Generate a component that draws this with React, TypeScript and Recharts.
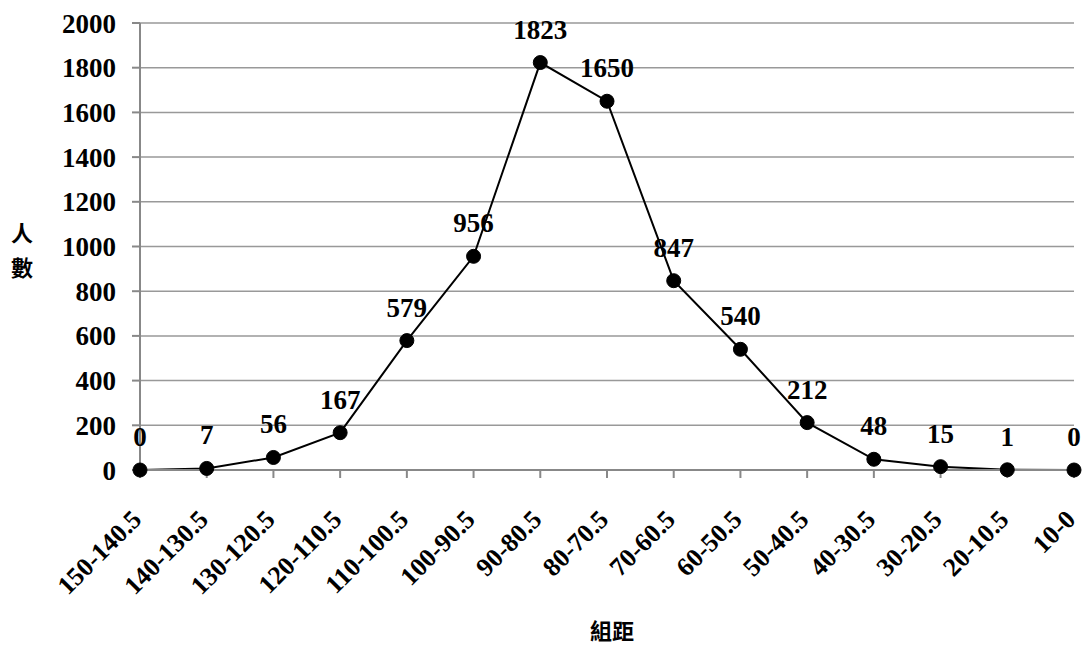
import React from 'react';
import { LineChart, Line, XAxis, YAxis, CartesianGrid, LabelList } from 'recharts';

const categories = ['150-140.5', '140-130.5', '130-120.5', '120-110.5', '110-100.5', '100-90.5', '90-80.5', '80-70.5', '70-60.5', '60-50.5', '50-40.5', '40-30.5', '30-20.5', '20-10.5', '10-0'];
const counts = [0, 7, 56, 167, 579, 956, 1823, 1650, 847, 540, 212, 48, 15, 1, 0];
const yTicks = [0, 200, 400, 600, 800, 1000, 1200, 1400, 1600, 1800, 2000];
const yTitle = ['人', '數'];
const xTitle = '組距';

const data = categories.map((c, i) => ({ name: c, value: counts[i] }));

const FONT = 'Liberation Serif';
const CJK = 'Noto Sans CJK TC';

const XTick = (props: any) => {
  const { x, y, payload } = props;
  const ax = x + 3;
  const ay = y + 29;
  return (
    <text x={ax} y={ay} textAnchor="end" transform={`rotate(-45, ${ax}, ${ay})`} style={{ fontFamily: FONT, fontWeight: 'bold', fontSize: 26 }} fill="#000">
      {payload.value}
    </text>
  );
};

const YTitle = (props: any) => {
  const { viewBox } = props;
  const cx = 22;
  const cy = viewBox.y + viewBox.height / 2;
  return (
    <g>
      {yTitle.map((ch, i) => (
        <text key={i} x={cx} y={cy - 6 + i * 35} textAnchor="middle" style={{ fontFamily: CJK, fontWeight: 'bold', fontSize: 22 }} fill="#000">{ch}</text>
      ))}
    </g>
  );
};

export default function App() {
  return (
    <div style={{ position: 'absolute', left: 0, top: 0, background: '#fff' }}>
      <LineChart width={1085} height={647} data={data} margin={{ top: 23, right: 11, left: 0, bottom: 0 }}>
        <CartesianGrid horizontal={true} vertical={false} stroke="#999" strokeWidth={1.5} />
        <XAxis dataKey="name" height={177} tickSize={8} tickMargin={14} stroke="#888" strokeWidth={2} tick={<XTick />} interval={0}
          label={{ value: xTitle, position: 'insideBottom', offset: 8, style: { fontFamily: CJK, fontWeight: 'bold', fontSize: 22 }, fill: '#000', dx: 5 }} />
        <YAxis width={140} domain={[0, 2000]} ticks={yTicks} tickSize={8} tickMargin={16} stroke="#888" strokeWidth={2}
          tick={{ style: { fontFamily: FONT, fontWeight: 'bold', fontSize: 27 }, fill: '#000' }} interval={0}
          label={{ content: <YTitle /> }} />
        <Line type="linear" dataKey="value" stroke="#000" strokeWidth={2} dot={{ r: 7, fill: '#000', stroke: '#000', strokeWidth: 1 }} isAnimationActive={false}>
          <LabelList dataKey="value" position="top" offset={24} style={{ fontFamily: FONT, fontWeight: 'bold', fontSize: 27 }} fill="#000" />
        </Line>
      </LineChart>
    </div>
  );
}
